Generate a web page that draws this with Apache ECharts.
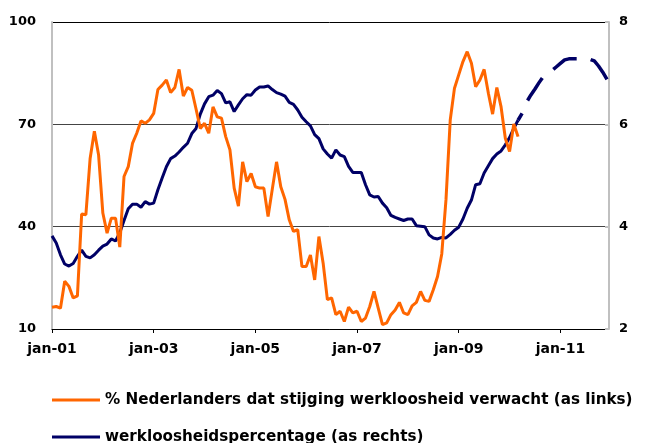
<!DOCTYPE html>
<html><head><meta charset="utf-8">
<script src="https://cdn.jsdelivr.net/npm/echarts@6/dist/echarts.min.js"></script>
<style>html,body{margin:0;padding:0;background:#fff}#c{width:646px;height:443px}</style>
</head><body><div id="c"></div>
<script>
const monthNames = ['jan','feb','mrt','apr','mei','jun','jul','aug','sep','okt','nov','dec'];
const years = ['01','02','03','04','05','06','07','08','09','10','11'];
const categories = [];
years.forEach(y => monthNames.forEach(m => categories.push(m + '-' + y)));

const seriesNames = ['% Nederlanders dat stijging werkloosheid verwacht (as links)', 'werkloosheidspercentage (as rechts)'];

// % expecting rising unemployment (left axis), jan-01 .. mrt-10
const expectation = [
16.4,16.6,16.1,24.0,22.5,19.1,19.7,43.7,43.5,60.0,
68.0,61.0,44.0,38.1,42.5,42.5,34.0,54.7,57.6,64.4,
67.4,71.0,70.3,71.3,73.2,80.2,81.5,83.0,79.3,80.8,
86.1,78.3,80.8,80.0,74.5,68.8,70.3,67.4,75.1,72.2,
71.8,66.4,62.5,51.3,46.0,59.0,53.2,55.6,51.7,51.3,
51.3,43.0,51.0,59.0,51.7,48.0,42.0,38.6,39.1,28.3,
28.3,31.7,24.4,37.1,29.3,18.6,19.1,14.2,15.2,12.2,
16.4,14.7,15.2,12.2,13.2,16.6,21.0,16.1,11.3,11.8,
14.2,15.6,17.8,14.7,14.2,16.8,17.8,21.0,18.4,18.1,
21.5,25.4,32.0,48.0,71.3,80.6,84.5,88.4,91.3,87.9,
81.0,83.0,86.1,79.1,73.0,80.8,75.1,65.9,62.0,70.1,
66.4
];

// unemployment rate (right axis), jan-01 .. mrt-10
const unemployment = [
3.82,3.68,3.45,3.27,3.23,3.28,3.42,3.54,3.42,3.39,
3.45,3.54,3.62,3.66,3.76,3.72,3.88,4.12,4.35,4.44,
4.44,4.38,4.49,4.44,4.46,4.72,4.95,5.17,5.33,5.38,
5.46,5.55,5.63,5.82,5.92,6.20,6.40,6.54,6.57,6.66,
6.60,6.42,6.44,6.25,6.38,6.50,6.58,6.57,6.67,6.73,
6.73,6.75,6.68,6.62,6.59,6.55,6.43,6.39,6.28,6.14,
6.05,5.97,5.80,5.72,5.52,5.42,5.34,5.50,5.40,5.37,
5.18,5.06,5.06,5.06,4.82,4.62,4.58,4.59,4.46,4.37,
4.22,4.18,4.15,4.12,4.15,4.15,4.02,4.01,4.00,3.84,
3.78,3.76,3.79,3.78,3.85,3.93,3.99,4.15,4.36,4.52,
4.82,4.84,5.05,5.19,5.33,5.42,5.48,5.60,5.74,5.92,
6.08
];

// forecast of unemployment rate, mrt-10 .. dec-11
const forecastStartIndex = 110;
const unemploymentForecast = [6.08,6.22,6.43,6.57,6.69,6.82,6.94,7.00,7.05,7.12,7.19,7.26,7.28,7.28,7.28,7.28,7.28,7.27,7.24,7.14,7.02,6.88];

const leftTicks = [10,40,70,100];
const rightTicks = [2,4,6,8];

const forecastData = categories.map((c, i) => {
  const k = i - forecastStartIndex;
  return (k >= 0 && k < unemploymentForecast.length) ? unemploymentForecast[k] : null;
});

const FONT = 'DejaVu Sans';
const legendText = {fontFamily: FONT, fontWeight: 'bold', fontSize: 15.2, color: '#000', lineHeight: 18};
const legendBase = {orient: 'horizontal', left: 52, padding: 0, itemWidth: 48, itemHeight: 3, itemTextGap: 2, textStyle: legendText};
const chart = echarts.init(document.getElementById('c'), null, {renderer: 'canvas'});
chart.setOption({
  animation: false,
  backgroundColor: '#fff',
  grid: {left: 52, right: 39, top: 22, bottom: 114, containLabel: false},
  legend: [
    Object.assign({}, legendBase, {top: 391, data: [{name: seriesNames[0], icon: 'rect'}]}),
    Object.assign({}, legendBase, {top: 428, data: [{name: seriesNames[1], icon: 'rect'}]})
  ],
  xAxis: {
    type: 'category', data: categories, boundaryGap: false,
    axisLine: {lineStyle: {color: '#000', width: 1}},
    axisTick: {interval: 23, length: 4, lineStyle: {color: '#000'}},
    axisLabel: {interval: 23, margin: 13, fontFamily: FONT, fontWeight: 'bold', fontSize: 14, color: '#000'},
    splitLine: {show: false}
  },
  yAxis: [
    {
      type: 'value', min: leftTicks[0], max: leftTicks[leftTicks.length - 1], position: 'left',
      axisLine: {show: true, lineStyle: {color: '#c0c0c0', width: 2}},
      axisTick: {show: false},
      axisLabel: {customValues: leftTicks, margin: 16, fontFamily: FONT, fontWeight: 'bold', fontSize: 13, color: '#000'},
      splitLine: {show: false}
    },
    {
      type: 'value', min: rightTicks[0], max: rightTicks[rightTicks.length - 1], interval: 2, position: 'right', offset: 2,
      axisLine: {show: true, lineStyle: {color: '#c0c0c0', width: 2}},
      axisTick: {show: true, inside: true, length: 4, lineStyle: {color: '#c0c0c0', width: 2}},
      axisLabel: {margin: 10, fontFamily: FONT, fontWeight: 'bold', fontSize: 13, color: '#000'},
      splitLine: {show: true, lineStyle: {color: ['#000', '#444', '#444', '#000'], width: 1}}
    }
  ],
  series: [
    {
      name: seriesNames[0], type: 'line', yAxisIndex: 0, data: expectation,
      showSymbol: false, symbol: 'none', color: '#FF6600', z: 3,
      lineStyle: {color: '#FF6600', width: 3}
    },
    {
      name: seriesNames[1], type: 'line', yAxisIndex: 1, data: unemployment,
      showSymbol: false, symbol: 'none', color: '#000066', z: 2,
      lineStyle: {color: '#000066', width: 3}
    },
    {
      name: 'prognose', type: 'line', yAxisIndex: 1, data: forecastData,
      showSymbol: false, symbol: 'none', color: '#000066', z: 2,
      lineStyle: {color: '#000066', width: 3.5, type: [27, 14], dashOffset: 19}
    }
  ]
});
</script></body></html>
